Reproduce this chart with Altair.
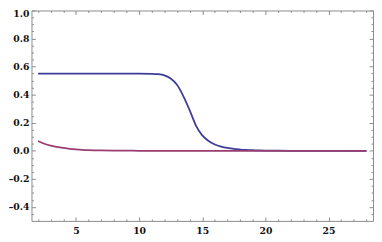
import altair as alt
import pandas as pd

# blue curve
x_blue = [2, 3, 4, 5, 6, 7, 8, 9, 10, 11,
          11.5, 12, 12.5, 13, 13.5, 14, 14.5, 15, 15.5, 16, 16.5, 17, 17.5, 18, 18.5, 19, 19.5, 20,
          21, 22, 23, 24, 25, 26, 27, 28]
y_blue = [0.55, 0.55, 0.55, 0.55, 0.55, 0.55, 0.55, 0.55, 0.55, 0.549,
          0.546, 0.537, 0.515, 0.47, 0.39, 0.29, 0.18, 0.11, 0.07, 0.045, 0.03, 0.02, 0.013, 0.009, 0.006, 0.004, 0.0025, 0.0015,
          0.0005, 0, 0, 0, 0, 0, 0, 0]

# purple curve
x_purple = [2, 2.5, 3, 3.5, 4, 4.5, 5, 5.5, 6, 7, 8, 9, 10, 12, 14, 16, 18, 20, 22, 24, 26, 28]
y_purple = [0.07, 0.05, 0.036, 0.027, 0.02, 0.014, 0.01, 0.007, 0.005, 0.0025, 0.001, 0.0005,
            0, 0, 0, 0, 0, 0, 0, 0, 0, 0]

x_ticks = [2, 3, 4, 5, 6, 7, 8, 9, 10, 11, 12, 13, 14, 15, 16, 17, 18, 19, 20,
           21, 22, 23, 24, 25, 26, 27, 28]
y_ticks = [-0.45, -0.4, -0.35, -0.3, -0.25, -0.2, -0.15, -0.1, -0.05, 0.0,
           0.05, 0.1, 0.15, 0.2, 0.25, 0.3, 0.35, 0.4, 0.45, 0.5, 0.55, 0.6,
           0.65, 0.7, 0.75, 0.8, 0.85, 0.9, 0.95, 1.0]

W, H = 349, 215
GRAY = "#8a8a8a"
FONT = dict(labelFont="DejaVu Serif", labelFontWeight="bold", labelFontSize=9.5,
            labelColor="#111111")

df = pd.concat([
    pd.DataFrame({"x": x_blue, "y": y_blue, "s": "blue"}),
    pd.DataFrame({"x": x_purple, "y": y_purple, "s": "purple"}),
])

x_axis = alt.Axis(
    values=x_ticks, title=None, ticks=False, domain=False,
    grid=True, gridColor=GRAY, gridOpacity=1, gridWidth=1,
    gridDash={"condition": {"test": "datum.value % 5 === 0", "value": [4, H - 8, 4]},
              "value": [2, H - 4, 2]},
    labelExpr="datum.value % 5 === 0 ? '' + datum.value : ''",
    labelOverlap=False, labelFlush=False, labelPadding=5, **FONT,
)
y_axis = alt.Axis(
    values=y_ticks, title=None, ticks=False, domain=False,
    grid=True, gridColor=GRAY, gridOpacity=1, gridWidth=1,
    gridDash={"condition": {"test": "abs(datum.value*5 - round(datum.value*5)) < 0.001",
                            "value": [4, W - 8, 4]},
              "value": [2, W - 4, 2]},
    labelExpr="abs(datum.value*5 - round(datum.value*5)) < 0.001 ? replace(replace(format(datum.value, '.1f'), '\u2212', '\u2013'), '-', '\u2013') : ''",
    labelOffset={"condition": {"test": "datum.value > 0.99", "value": 3}, "value": 0},
    labelOverlap=False, labelFlush=False, labelPadding=2.5, **FONT,
)

base = alt.Chart(df).encode(
    x=alt.X("x:Q", scale=alt.Scale(domain=[1.48, 28.52], nice=False, zero=False), axis=x_axis),
    y=alt.Y("y:Q", scale=alt.Scale(domain=[-0.5, 1.0], nice=False, zero=False), axis=y_axis),
)

blue = base.transform_filter(alt.datum.s == "blue").mark_line(
    color="#3d3d99", strokeWidth=1.8, interpolate="monotone")
purple = base.transform_filter(alt.datum.s == "purple").mark_line(
    color="#993d71", strokeWidth=1.8, interpolate="monotone")

chart = alt.layer(blue, purple).properties(
    width=W, height=H,
    autosize=alt.AutoSizeParams(type="none"),
    padding={"left": 24, "top": 0, "right": 1, "bottom": 19},
).configure_view(
    stroke=GRAY, strokeWidth=1
)

chart.save("out.html", embed_options={"renderer": "svg", "actions": False})
